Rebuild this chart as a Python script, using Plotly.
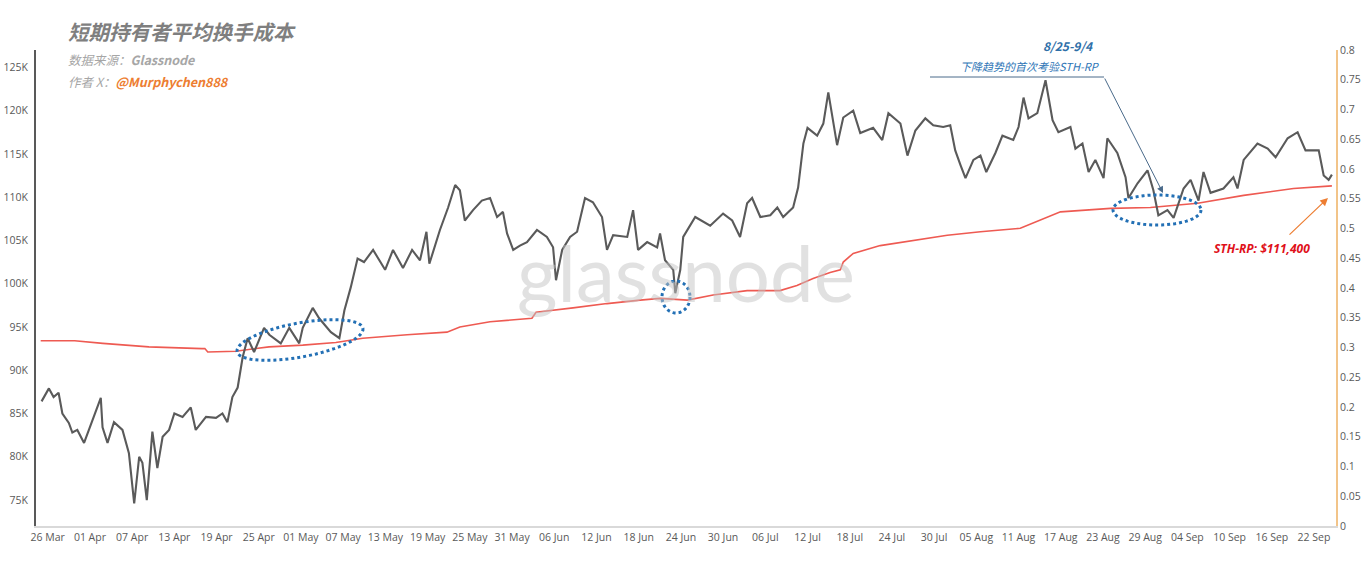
import math
import plotly.graph_objects as go

# ---------------- data ----------------
price_dates = [
    "2025-03-25 03:00", "2025-03-26 04:00", "2025-03-26 20:00", "2025-03-27 13:00", "2025-03-28 02:00",
    "2025-03-29 00:00", "2025-03-29 12:00", "2025-03-30 05:00", "2025-03-31 04:00", "2025-04-01 14:00",
    "2025-04-02 13:00", "2025-04-02 19:00", "2025-04-03 12:00", "2025-04-04 10:00", "2025-04-05 15:00",
    "2025-04-06 13:00", "2025-04-07 07:00", "2025-04-08 00:00", "2025-04-08 11:00", "2025-04-09 02:00",
    "2025-04-09 21:00", "2025-04-10 14:00", "2025-04-11 08:00", "2025-04-12 06:00", "2025-04-13 00:00",
    "2025-04-14 04:00", "2025-04-15 08:00", "2025-04-16 01:00", "2025-04-17 12:00", "2025-04-18 22:00",
    "2025-04-19 20:00", "2025-04-20 13:00", "2025-04-21 06:00", "2025-04-22 00:00", "2025-04-22 17:00",
    "2025-04-23 10:00", "2025-04-24 08:00", "2025-04-25 18:00", "2025-04-26 12:00", "2025-04-28 03:00",
    "2025-04-29 08:00", "2025-04-30 18:00", "2025-05-01 06:00", "2025-05-02 16:00", "2025-05-03 14:00",
    "2025-05-05 06:00", "2025-05-06 11:00", "2025-05-07 04:00", "2025-05-08 02:00", "2025-05-09 01:00",
    "2025-05-09 23:00", "2025-05-11 06:00", "2025-05-12 23:00", "2025-05-14 02:00", "2025-05-15 12:00",
    "2025-05-16 19:00", "2025-05-17 22:00", "2025-05-18 20:00", "2025-05-19 06:00", "2025-05-20 18:00",
    "2025-05-21 22:00", "2025-05-22 22:00", "2025-05-23 14:00", "2025-05-24 07:00", "2025-05-25 11:00",
    "2025-05-26 17:00", "2025-05-27 21:00", "2025-05-28 21:00", "2025-05-29 17:00", "2025-05-30 07:00",
    "2025-05-31 04:00", "2025-06-01 03:00", "2025-06-02 03:00", "2025-06-03 13:00", "2025-06-04 23:00",
    "2025-06-05 20:00", "2025-06-06 06:00", "2025-06-07 03:00", "2025-06-08 06:00", "2025-06-09 06:00",
    "2025-06-10 09:00", "2025-06-11 12:00", "2025-06-12 19:00", "2025-06-13 12:00", "2025-06-14 09:00",
    "2025-06-16 09:00", "2025-06-17 05:00", "2025-06-17 22:00", "2025-06-19 05:00", "2025-06-20 15:00",
    "2025-06-21 01:00", "2025-06-21 18:00", "2025-06-22 22:00", "2025-06-23 05:00", "2025-06-23 22:00",
    "2025-06-24 08:00", "2025-06-26 01:00", "2025-06-28 04:00", "2025-06-30 00:00", "2025-07-01 07:00",
    "2025-07-02 10:00", "2025-07-03 10:00", "2025-07-04 03:00", "2025-07-05 07:00", "2025-07-06 17:00",
    "2025-07-07 17:00", "2025-07-08 13:00", "2025-07-09 23:00", "2025-07-10 16:00", "2025-07-11 10:00",
    "2025-07-12 00:00", "2025-07-13 09:00", "2025-07-14 06:00", "2025-07-14 23:00", "2025-07-15 16:00",
    "2025-07-16 05:00", "2025-07-17 02:00", "2025-07-18 12:00", "2025-07-19 12:00", "2025-07-21 08:00",
    "2025-07-22 15:00", "2025-07-23 12:00", "2025-07-25 05:00", "2025-07-26 05:00", "2025-07-27 08:00",
    "2025-07-28 18:00", "2025-07-29 21:00", "2025-07-31 07:00", "2025-08-01 07:00", "2025-08-02 00:00",
    "2025-08-02 18:00", "2025-08-03 11:00", "2025-08-04 14:00", "2025-08-05 14:00", "2025-08-06 10:00",
    "2025-08-07 17:00", "2025-08-08 17:00", "2025-08-10 06:00", "2025-08-11 00:00", "2025-08-11 17:00",
    "2025-08-12 10:00", "2025-08-13 16:00", "2025-08-14 20:00", "2025-08-15 20:00", "2025-08-16 16:00",
    "2025-08-18 09:00", "2025-08-19 02:00", "2025-08-20 02:00", "2025-08-20 23:00", "2025-08-21 22:00",
    "2025-08-23 02:00", "2025-08-23 15:00", "2025-08-25 01:00", "2025-08-26 05:00", "2025-08-26 15:00",
    "2025-08-27 22:00", "2025-08-29 08:00", "2025-08-30 04:00", "2025-08-30 21:00", "2025-09-01 04:00",
    "2025-09-02 01:00", "2025-09-03 11:00", "2025-09-04 11:00", "2025-09-05 14:00", "2025-09-06 07:00",
    "2025-09-07 07:00", "2025-09-09 03:00", "2025-09-10 13:00", "2025-09-11 03:00", "2025-09-12 00:00",
    "2025-09-13 23:00", "2025-09-15 10:00", "2025-09-16 13:00", "2025-09-18 06:00", "2025-09-19 16:00",
    "2025-09-20 19:00", "2025-09-22 16:00", "2025-09-23 09:00", "2025-09-24 02:00", "2025-09-24 13:00",
]
price_values = [
    86400, 87900, 86900, 87400, 85000,
    83900, 82800, 83100, 81600, 84800,
    86800, 83400, 81600, 84000, 83100,
    80400, 74600, 80000, 79300, 75000,
    82900, 78700, 82300, 83100, 85000,
    84600, 85700, 83100, 84600, 84500,
    85000, 84000, 86900, 88000, 91500,
    93700, 92100, 94900, 94100, 93100,
    94900, 93100, 94900, 97200, 96000,
    94400, 93700, 96900, 99600, 102900,
    102500, 103900, 101600, 103900, 101800,
    103900, 102700, 106000, 102300, 106200,
    108800, 111400, 110800, 107300, 108500,
    109600, 109900, 107700, 108300, 105800,
    103900, 104400, 104800, 106200, 105400,
    104200, 100400, 103900, 105400, 106000,
    109900, 109400, 107700, 103900, 105600,
    105400, 108500, 103900, 104800, 104200,
    105800, 102700, 101600, 98900, 101600,
    105400, 107700, 106700, 108100, 107300,
    105400, 109300, 109900, 107700, 107900,
    108800, 107700, 108800, 111100, 116200,
    118000, 117100, 118500, 122100, 118900,
    116000, 119200, 120000, 117400, 118000,
    116600, 119700, 118500, 114800, 117700,
    119100, 118300, 118100, 118300, 115400,
    113700, 112200, 114300, 114800, 112900,
    115100, 117100, 116600, 118100, 121500,
    119100, 119700, 123500, 118900, 117500,
    118100, 115600, 116200, 112900, 114300,
    112200, 116800, 115100, 112300, 109900,
    111600, 113100, 110800, 107900, 108500,
    107600, 111000, 112000, 109600, 112900,
    110500, 111000, 112300, 111000, 114300,
    116200, 115600, 114600, 116800, 117500,
    115400, 115400, 112500, 112000, 112600,
]

rp_dates = [
    "2025-03-25 00:00", "2025-03-29 20:00", "2025-04-02 20:00", "2025-04-09 09:00", "2025-04-16 22:00",
    "2025-04-17 08:00", "2025-04-17 18:00", "2025-04-21 18:00", "2025-04-26 11:00", "2025-05-01 06:00",
    "2025-05-05 23:00", "2025-05-09 19:00", "2025-05-16 02:00", "2025-05-21 18:00", "2025-05-23 14:00",
    "2025-05-27 21:00", "2025-06-02 20:00", "2025-06-03 10:00", "2025-06-08 16:00", "2025-06-13 12:00",
    "2025-06-18 05:00", "2025-06-21 01:00", "2025-06-24 22:00", "2025-06-28 14:00", "2025-07-03 10:00",
    "2025-07-08 02:00", "2025-07-10 12:00", "2025-07-12 19:00", "2025-07-15 05:00", "2025-07-16 16:00",
    "2025-07-17 02:00", "2025-07-18 12:00", "2025-07-22 08:00", "2025-07-27 01:00", "2025-07-31 21:00",
    "2025-08-05 14:00", "2025-08-11 06:00", "2025-08-16 23:00", "2025-08-24 02:00", "2025-08-29 18:00",
    "2025-09-05 11:00", "2025-09-12 00:00", "2025-09-19 02:00", "2025-09-24 13:00",
]
rp_values = [
    93400, 93400, 93100, 92700, 92500,
    92500, 92100, 92200, 92700, 92900,
    93200, 93700, 94100, 94400, 95000,
    95600, 96000, 96700, 97200, 97700,
    98100, 98300, 98100, 98700, 99200,
    99200, 99800, 100600, 101300, 101600,
    102500, 103500, 104400, 105000, 105600,
    106000, 106400, 108300, 108700, 108800,
    109300, 110200, 111000, 111300,
]

left_tick_vals = [75000, 80000, 85000, 90000, 95000, 100000, 105000, 110000, 115000, 120000, 125000]
left_tick_text = ["75K", "80K", "85K", "90K", "95K", "100K", "105K", "110K", "115K", "120K", "125K"]

# ---------------- layout helpers ----------------
W, H = 1372, 566
L, R, T, B = 36, 36, 50, 40
PW, PH = W - L - R, H - T - B


def px(x):
    return (x - L) / PW


def py(y):
    return (H - B - y) / PH


fig = go.Figure()

fig.add_trace(go.Scatter(
    x=rp_dates, y=rp_values, mode="lines",
    line=dict(color="#EE5A52", width=1.6), name="STH-RP", hoverinfo="skip",
))
fig.add_trace(go.Scatter(
    x=price_dates, y=price_values, mode="lines",
    line=dict(color="#5A5A5A", width=2.1), name="Price",
))
fig.add_trace(go.Scatter(
    x=[price_dates[0]], y=[None], yaxis="y2", mode="lines", showlegend=False, hoverinfo="skip",
))

CJK = "Noto Sans CJK SC, Open Sans, sans-serif"
TICKFONT = dict(family="Open Sans, DejaVu Sans, sans-serif", size=10.5, color="#595959")

fig.update_layout(
    width=W, height=H,
    margin=dict(l=L, r=R, t=T, b=B, autoexpand=False),
    paper_bgcolor="white", plot_bgcolor="white",
    showlegend=False,
    xaxis=dict(
        type="date", automargin=False,
        range=["2025-03-24 08:00", "2025-09-25 03:00"],
        tick0="2025-03-26", dtick=6 * 86400000, tickformat="%d %b",
        showgrid=False, zeroline=False,
        showline=True, linecolor="#D9D9D9", linewidth=2,
        ticks="", tickfont=TICKFONT,
    ),
    yaxis=dict(
        range=[72000, 127000], automargin=False,
        tickvals=left_tick_vals, ticktext=left_tick_text,
        showgrid=False, zeroline=False,
        showline=True, linecolor="#595959", linewidth=2,
        ticks="", tickfont=TICKFONT, ticklabelstandoff=4,
    ),
    yaxis2=dict(
        overlaying="y", side="right", automargin=False,
        range=[0, 0.8], dtick=0.05,
        showgrid=False, zeroline=False,
        showline=True, linecolor="#F2C489", linewidth=2,
        ticks="", tickfont=TICKFONT,
    ),
)

annotations = []
# watermark
annotations.append(dict(
    xref="paper", yref="paper", x=px(686), y=py(272), text="glassnode", showarrow=False,
    font=dict(family="Lato, Open Sans, sans-serif", size=78, color="rgba(195,195,195,0.5)"),
))
# title block
annotations.append(dict(
    xref="paper", yref="paper", x=px(66), y=py(31), xanchor="left", yanchor="middle",
    text="<b><i>短期持有者平均换手成本</i></b>", showarrow=False,
    font=dict(family=CJK, size=20.5, color="#7F7F7F"),
))
annotations.append(dict(
    xref="paper", yref="paper", x=px(66), y=py(59), xanchor="left", yanchor="middle",
    text="<i>数据来源：<b>Glassnode</b></i>", showarrow=False,
    font=dict(family=CJK, size=12.5, color="#A6A6A6"),
))
annotations.append(dict(
    xref="paper", yref="paper", x=px(66), y=py(81), xanchor="left", yanchor="middle",
    text="<i>作者 X：</i><b><i><span style='color:#ED7D31'>@Murphychen888</span></i></b>", showarrow=False,
    font=dict(family=CJK, size=12.5, color="#A6A6A6"),
))
# blue note
annotations.append(dict(
    xref="paper", yref="paper", x=px(1068), y=py(45), xanchor="center", yanchor="middle",
    text="<b><i>8/25-9/4</i></b>", showarrow=False,
    font=dict(family=CJK, size=12, color="#2E6FA8"),
))
annotations.append(dict(
    xref="paper", yref="paper", x=px(1030), y=py(66), xanchor="center", yanchor="middle",
    text="<i>下降趋势的首次考验STH-RP</i>", showarrow=False,
    font=dict(family=CJK, size=11, color="#2E75B6"),
))
annotations.append(dict(
    xref="paper", yref="paper", x=px(1163), y=py(193), ax=-59, ay=-116,
    text="", showarrow=True, arrowhead=2, arrowsize=1.3, arrowwidth=1,
    arrowcolor="#4A6A8A",
))
# STH-RP label
annotations.append(dict(
    xref="paper", yref="paper", x=px(1262), y=py(249), xanchor="center", yanchor="middle",
    text="<b><i>STH-RP: $111,400</i></b>", showarrow=False,
    font=dict(family="Open Sans, DejaVu Sans, sans-serif", size=12, color="#E0101A"),
))
annotations.append(dict(
    xref="paper", yref="paper", x=px(1328), y=py(198), ax=-40, ay=38,
    text="", showarrow=True, arrowhead=2, arrowsize=1.3, arrowwidth=1.2,
    arrowcolor="#ED7D31",
))
fig.update_layout(annotations=annotations)


def ellipse_path(cx, cy, rx, ry, angle_deg, n=60):
    a = math.radians(angle_deg)
    pts = []
    for i in range(n + 1):
        t = 2 * math.pi * i / n
        ex, ey = rx * math.cos(t), ry * math.sin(t)
        x = cx + ex * math.cos(a) - ey * math.sin(a)
        y = cy + ex * math.sin(a) + ey * math.cos(a)
        pts.append((px(x), py(y)))
    return "M " + " L ".join(f"{u:.5f},{v:.5f}" for u, v in pts) + " Z"


shapes = [
    dict(type="line", xref="paper", yref="paper", x0=px(930), x1=px(1104), y0=py(77), y1=py(77),
         line=dict(color="#4A6A8A", width=1)),
]
dot_line = dict(color="#2370B5", width=3, dash="dot")
shapes.append(dict(type="path", xref="paper", yref="paper", path=ellipse_path(300, 340, 64, 17, -10.5), line=dot_line))
shapes.append(dict(type="path", xref="paper", yref="paper", path=ellipse_path(676, 297, 14, 16, 0), line=dot_line))
shapes.append(dict(type="path", xref="paper", yref="paper", path=ellipse_path(1157, 210, 44, 15, 0), line=dot_line))
fig.update_layout(shapes=shapes)

fig.write_html(
    "out.html",
    config={"displayModeBar": False},
    post_script="document.body.style.margin='0';document.body.style.overflow='hidden';",
)
